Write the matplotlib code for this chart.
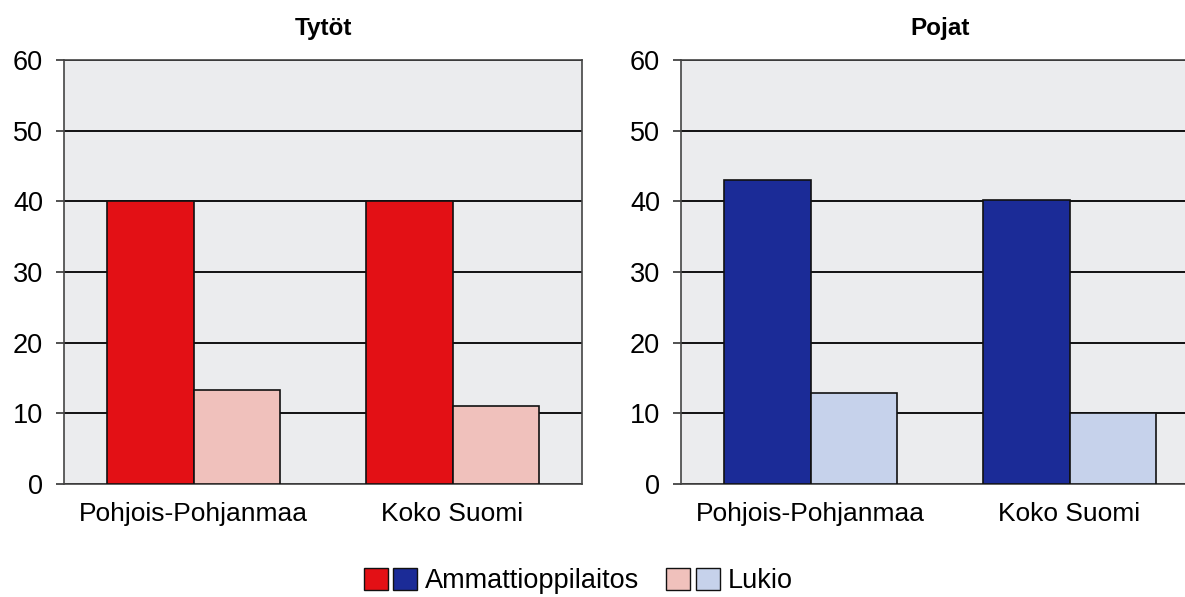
import matplotlib.pyplot as plt
from matplotlib.patches import Patch
from matplotlib.legend_handler import HandlerTuple

plt.rcParams['font.family'] = ['Liberation Sans', 'DejaVu Sans']

# Share of students (%) by school type
regions = ['Pohjois-Pohjanmaa', 'Koko Suomi']
girls_vocational = [40, 40]
girls_upper_sec = [13.3, 11.1]
boys_vocational = [43, 40.2]
boys_upper_sec = [12.9, 10]

panels = [
    ('Tytöt', girls_vocational, girls_upper_sec, '#E31015', '#F0C1BC'),
    ('Pojat', boys_vocational, boys_upper_sec, '#1B2B97', '#C6D2EB'),
]

fig = plt.figure(figsize=(11.85, 5.97), dpi=100)
ax_left = fig.add_axes([64 / 1185, 113 / 597, 518 / 1185, 424 / 597])
ax_right = fig.add_axes([681 / 1185, 113 / 597, 518 / 1185, 424 / 597])

w = 0.333
x = range(len(regions))
for ax, (title, voc, ups, c_voc, c_ups) in zip([ax_left, ax_right], panels):
    ax.set_facecolor('#EBECEE')
    ax.set_axisbelow(True)
    ax.yaxis.grid(True, color='black', linewidth=1.3)
    ax.bar([i - w / 2 for i in x], voc, width=w, color=c_voc,
           edgecolor='#111111', linewidth=1.2, zorder=3)
    ax.bar([i + w / 2 for i in x], ups, width=w, color=c_ups,
           edgecolor='#111111', linewidth=1.2, zorder=3)
    ax.set_xlim(-0.5, 1.5)
    ax.set_ylim(0, 60)
    ax.set_yticks(range(0, 61, 10))
    ax.set_xticks(list(x))
    ax.set_xticklabels(regions)
    ax.tick_params(axis='x', length=0, pad=13, labelsize=19)
    ax.tick_params(axis='y', length=6, width=1.2, pad=9, labelsize=19.5,
                   color='#333333')
    for s in ax.spines.values():
        s.set_color('#444444')
        s.set_linewidth(1.2)
    ax.set_title(title, fontsize=17.5, fontweight='bold', pad=18)

handles = [
    (Patch(facecolor=panels[0][3], edgecolor='#111111'),
     Patch(facecolor=panels[1][3], edgecolor='#111111')),
    (Patch(facecolor=panels[0][4], edgecolor='#111111'),
     Patch(facecolor=panels[1][4], edgecolor='#111111')),
]
fig.legend(handles, ['Ammattioppilaitos', 'Lukio'], ncol=2,
           handler_map={tuple: HandlerTuple(ndivide=None, pad=0.19)},
           loc='center', bbox_to_anchor=(0.488, 16 / 597), frameon=False,
           fontsize=19.5, handlelength=1.96, handleheight=0.89,
           handletextpad=0.3, columnspacing=1.0, borderpad=0)

fig.savefig('out.png', dpi=100)
